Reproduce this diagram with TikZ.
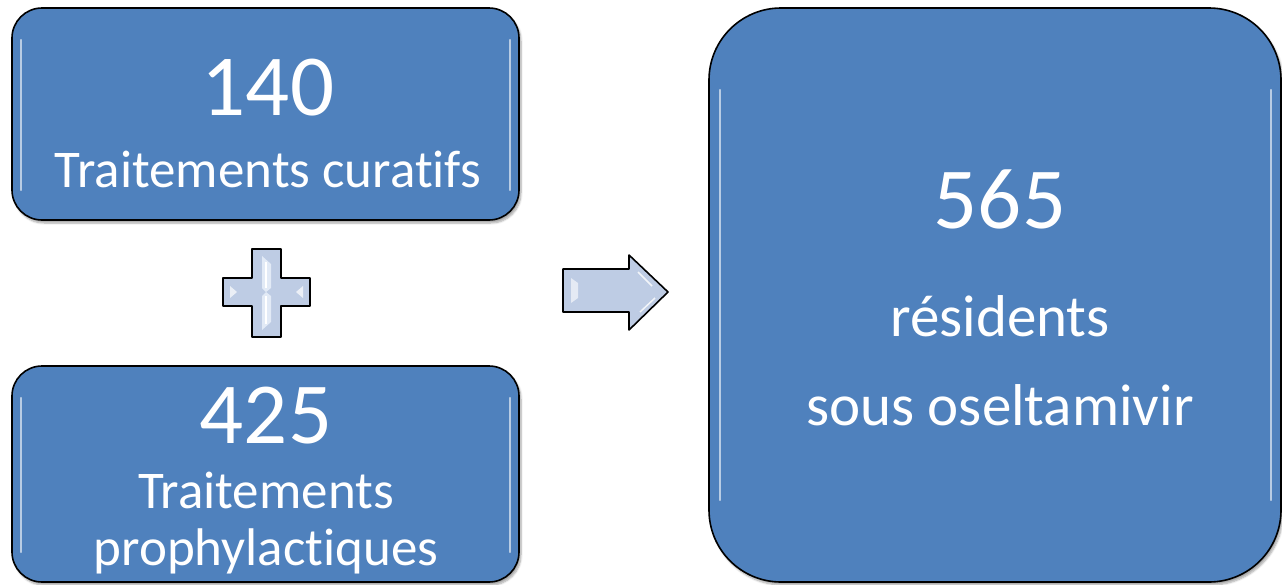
\documentclass[tikz,border=0pt]{standalone}
\usepackage{fontspec}
\setmainfont[Ligatures={NoCommon,NoRequired,NoContextual}]{Carlito}
\usetikzlibrary{shadows.blur}
\definecolor{boxblue}{RGB}{79,129,189}
\definecolor{bevel}{RGB}{190,204,228}
\definecolor{bevellight}{RGB}{226,234,246}
\tikzset{
  panel/.style={draw=black, line width=1.6pt, fill=boxblue,
    blur shadow={shadow xshift=2pt, shadow yshift=-3pt, shadow blur steps=6, shadow opacity=35}},
  gloss/.style={draw=white, line width=2.2pt, opacity=0.6, line cap=round},
  bignum/.style={text=white, font=\fontsize{87}{87}\selectfont, anchor=base, inner sep=0pt},
  smalltxt/.style={text=white, font=\fontsize{53}{53}\selectfont, anchor=base, inner sep=0pt},
  largetxt/.style={text=white, font=\fontsize{59}{59}\selectfont, anchor=base, inner sep=0pt},
  glyph/.style={draw=black, line width=1.6pt, fill=bevel, line join=round},
}
\begin{document}
\begin{tikzpicture}[x=1pt,y=-1pt]
\useasboundingbox (0,0) rectangle (1282,584);
\clip (0,0) rectangle (1282,584);
% boxes
\path[panel, rounded corners=30pt] (12,8) rectangle (519,220);
\draw[gloss] (21,40) -- (21,190);
\draw[gloss] (510,40) -- (510,190);
\path[panel, rounded corners=30pt] (12,366) rectangle (519,582);
\draw[gloss] (21,398) -- (21,552);
\draw[gloss] (510,398) -- (510,552);
\path[panel, rounded corners=72pt] (709,8) rectangle (1281,582);
\draw[gloss] (720,90) -- (720,500);
\draw[gloss] (1271,90) -- (1271,500);
% texts
\node[bignum] (n140) at (268,115) {140};
\node[smalltxt] (t140) at (268,187) {Traitements curatifs};
\node[bignum] (n425) at (266,443) {425};
\node[smalltxt] (t425a) at (266,508) {Traitements};
\node[smalltxt] (t425b) at (266,565) {prophylactiques};
\node[bignum] (n565) at (1000,228) {565};
\node[largetxt] (t565a) at (1000,336) {résidents};
\node[largetxt] (t565b) at (1000,425) {sous oseltamivir};
% plus sign
\path[glyph] (252,249) -- (281,249) -- (281,278) -- (310,278) -- (310,306) -- (281,306)
  -- (281,337) -- (252,337) -- (252,306) -- (223,306) -- (223,278) -- (252,278) -- cycle;
\fill[bevellight] (262,256) -- (271,264) -- (271,288) -- (266,292) -- (262,288) -- cycle;
\fill[bevellight] (262,330) -- (271,322) -- (271,296) -- (266,292) -- (262,296) -- cycle;
\draw[white, line width=1.2pt] (266,262) -- (266,288) (266,296) -- (266,324);
\fill[white, opacity=0.7] (230,286) -- (237,292) -- (230,298) -- cycle;
\fill[white, opacity=0.7] (303,286) -- (296,292) -- (303,298) -- cycle;
% arrow
\path[glyph] (563,269) -- (629,269) -- (629,255) -- (668,292) -- (629,330) -- (629,312)
  -- (563,312) -- cycle;
\fill[white, opacity=0.6] (571,278) -- (578,283) -- (578,298) -- (571,303) -- cycle;
\draw[white, line width=1.5pt, opacity=0.8] (638,272) -- (652,286);
\draw[white, line width=1.5pt, opacity=0.8] (640,312) -- (655,298);
\end{tikzpicture}
\end{document}
